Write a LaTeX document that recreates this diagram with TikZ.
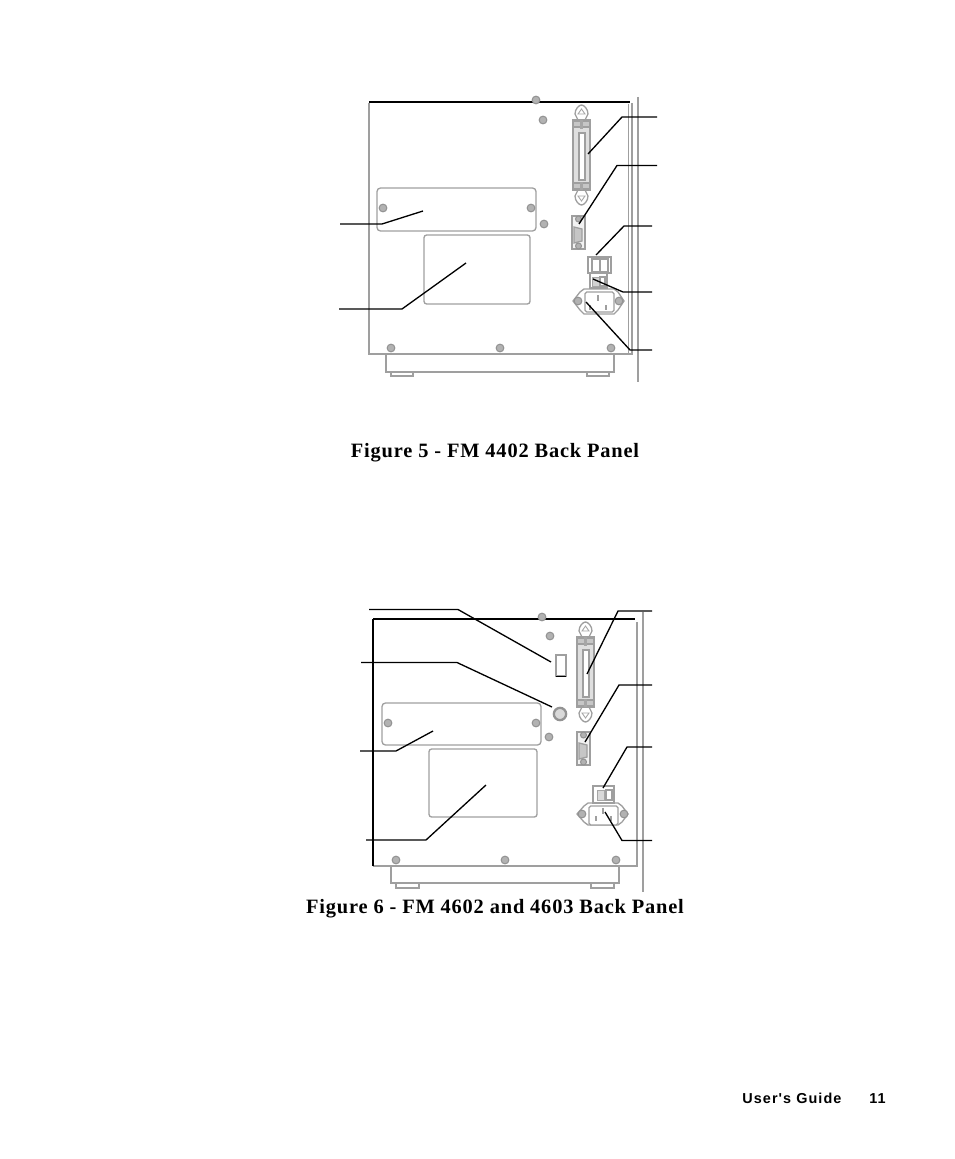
\documentclass[tikz,border=0pt]{standalone}
\usepackage{fontspec}
\setmainfont{Liberation Serif}
\setsansfont{Liberation Sans}
\newfontfamily\capfont[LetterSpace=4]{Liberation Serif}
\newfontfamily\footfont[LetterSpace=7.5]{Liberation Sans}
\tikzset{
  part/.style={draw=gray!75, line width=0.75pt},
  thin part/.style={draw=gray!70, line width=0.5pt},
  leader/.style={draw=black, line width=0.75pt},
  screw/.style={circle, draw=gray!85, fill=gray!60, line width=0.6pt, inner sep=0pt, minimum size=4.4pt},
  caption/.style={font=\capfont\bfseries\fontsize{11.6}{13}\selectfont, inner sep=0pt, anchor=base},
  footer/.style={font=\footfont\bfseries\fontsize{8.2}{10}\selectfont, inner sep=0pt, anchor=base west}
}
% centronics, db9 port: origin is the top left of the body
\newcommand{\centport}{
  \draw[part, fill=white] (5,0) -- (2,-6) .. controls (2,-11) and (6,-15) .. (8.5,-15) .. controls (11,-15) and (15,-11) .. (15,-6) -- (12,0) -- cycle;
  \draw[thin part] (5,-6) -- (8.5,-11) -- (12,-6) -- cycle;
  \draw[part, fill=white] (5,70) -- (2,76) .. controls (2,81) and (6,85) .. (8.5,85) .. controls (11,85) and (15,81) .. (15,76) -- (12,70) -- cycle;
  \draw[thin part] (5,76) -- (8.5,81) -- (12,76) -- cycle;
  \draw[part, fill=gray!25] (0,0) rectangle (17,70);
  \draw[part, fill=white] (6,13) rectangle (12,60);
  \draw[part, fill=gray!45] (0.5,1) rectangle (16.5,7);
  \draw[part, fill=gray!45] (0.5,63) rectangle (16.5,69);
  \draw[thin part, fill=gray!70] (7.5,0.5) rectangle (9.5,8);
  \draw[thin part, fill=gray!70] (7.5,62) rectangle (9.5,69.5);
}
\newcommand{\dbport}{
  \draw[part, fill=gray!10] (0,0) rectangle (13,33);
  \draw[part, fill=gray!45] (2,11) -- (10,13) -- (10,25) -- (2,27) -- cycle;
  \node[screw, minimum size=3.4pt] at (6.5,3) {};
  \node[screw, minimum size=3.4pt] at (6.5,30) {};
}
\begin{document}
\begin{tikzpicture}[x=0.02cm, y=-0.02cm]
\useasboundingbox (0,0) rectangle (954,1159);

% figure 5
\draw[part] (369,103) -- (369,354) -- (632,354) -- (632,103);
\draw[draw=black, line width=0.65pt] (369,102) -- (630,102);
\draw[part] (628.5,104) -- (628.5,354);
\draw[part] (386,354) -- (386,372) -- (614,372) -- (614,354);
\draw[part] (391,372) -- (391,376) -- (413,376) -- (413,372);
\draw[part] (587,372) -- (587,376) -- (609,376) -- (609,372);
\draw[part] (638,97) -- (638,382);
\draw[part, rounded corners=2pt] (377,188) rectangle (536,231);
\draw[part, rounded corners=1.5pt] (424,235) rectangle (530,304);
\foreach \sx/\sy in {536/100, 543/120, 544/224, 383/208, 531/208, 391/348, 500/348, 611/348}
  \node[screw] at (\sx,\sy) {};
\begin{scope}[shift={(573,120)}]
  \centport
\end{scope}
\begin{scope}[shift={(572,216)}]
  \dbport
\end{scope}
\draw[part] (588,257) rectangle (611,273);
\draw[part] (592,259) rectangle (600,272);
\draw[part] (600,259) rectangle (608,272);
\draw[part] (590,273) rectangle (607,288);
\draw[thin part, fill=gray!35] (592,277) rectangle (599,286);
\draw[part] (600,277) rectangle (605,286);
\draw[part] (573,301) -- (580,292) -- (584,289) -- (614,289) -- (618,292) -- (624,301) -- (618,310) -- (614,314) -- (584,314) -- (580,310) -- cycle;
\draw[part, fill=white, rounded corners=1pt] (585,292) rectangle (614,312);
\draw[part, line width=1pt] (598,295) -- (598,301);
\draw[part, line width=1pt] (590,305) -- (590,310);
\draw[part, line width=1pt] (606,305) -- (606,310);
\node[screw] at (578,301) {};
\node[screw] at (619,301) {};

\coordinate (serialfree) at (657,117);
\coordinate (serialbend) at (622,117);
\coordinate (serialport) at (588,154);
\draw[leader] (serialfree) -- (serialbend) -- (serialport);
\coordinate (dbfree) at (657,165.5);
\coordinate (dbbend) at (617,165.5);
\coordinate (dbport) at (579,224);
\draw[leader] (dbfree) -- (dbbend) -- (dbport);
\coordinate (switchfree) at (652,226);
\coordinate (switchbend) at (624,226);
\coordinate (switchpart) at (596,255);
\draw[leader] (switchfree) -- (switchbend) -- (switchpart);
\coordinate (fusefree) at (652,292);
\coordinate (fusebend) at (623,292);
\coordinate (fusepart) at (593,279);
\draw[leader] (fusefree) -- (fusebend) -- (fusepart);
\coordinate (powerfree) at (652,350);
\coordinate (powerbend) at (630,350);
\coordinate (powerpart) at (586,302);
\draw[leader] (powerfree) -- (powerbend) -- (powerpart);
\coordinate (platefree) at (340,224);
\coordinate (platebend) at (382,224);
\coordinate (platepart) at (423,211);
\draw[leader] (platefree) -- (platebend) -- (platepart);
\coordinate (labelfree) at (339,309);
\coordinate (labelbend) at (402,309);
\coordinate (labelpart) at (466,263);
\draw[leader] (labelfree) -- (labelbend) -- (labelpart);

\node[caption] (capfive) at (495,457) {Figure 5 - FM 4402 Back Panel};

% figure 6
\draw[part] (373,866) -- (637,866) -- (637,622);
\draw[draw=black, line width=0.8pt] (373,866) -- (373,619);
\draw[draw=black, line width=0.65pt] (373,619) -- (635,619);
\draw[part] (391,866) -- (391,883) -- (619,883) -- (619,866);
\draw[part] (396,883) -- (396,888) -- (419,888) -- (419,883);
\draw[part] (591,883) -- (591,888) -- (614,888) -- (614,883);
\draw[part] (643,612) -- (643,892);
\draw[part, rounded corners=2pt] (382,703) rectangle (541,745);
\draw[part, rounded corners=1.5pt] (429,749) rectangle (537,817);
\foreach \sx/\sy in {542/617, 550/636, 549/737, 388/723, 536/723, 396/860, 505/860, 616/860}
  \node[screw] at (\sx,\sy) {};
\draw[part] (556,655) rectangle (566,676);
\draw[leader, line width=0.5pt] (556,676) -- (566,676);
\node[screw, fill=gray!30, draw=gray!85, line width=1.3pt, minimum size=7pt] (knob) at (560,714) {};
\begin{scope}[shift={(577,637)}]
  \centport
\end{scope}
\begin{scope}[shift={(577,732)}]
  \dbport
\end{scope}
\draw[part] (593,786) rectangle (614,803);
\draw[thin part, fill=gray!30] (597,790) rectangle (604,800);
\draw[part] (606,790) rectangle (612,800);
\draw[part] (577,814) -- (584,806) -- (588,803) -- (618,803) -- (622,806) -- (628,814) -- (622,822) -- (618,825) -- (588,825) -- (584,822) -- cycle;
\draw[part, fill=white, rounded corners=1pt] (589,806) rectangle (618,825);
\draw[part, line width=1pt] (603,808) -- (603,814);
\draw[part, line width=1pt] (596,816) -- (596,821);
\draw[part, line width=1pt] (611,816) -- (611,821);
\node[screw] at (582,814) {};
\node[screw] at (624,814) {};

\coordinate (slotfree) at (369,609.5);
\coordinate (slotbend) at (458,609.5);
\coordinate (slotpart) at (551,662);
\draw[leader] (slotfree) -- (slotbend) -- (slotpart);
\coordinate (knobfree) at (361,662.5);
\coordinate (knobbend) at (457,662.5);
\coordinate (knobpart) at (552,707);
\draw[leader] (knobfree) -- (knobbend) -- (knobpart);
\coordinate (platesixfree) at (360,751);
\coordinate (platesixbend) at (396,751);
\coordinate (platesixpart) at (433,731);
\draw[leader] (platesixfree) -- (platesixbend) -- (platesixpart);
\coordinate (labelsixfree) at (366,840);
\coordinate (labelsixbend) at (426,840);
\coordinate (labelsixpart) at (486,785);
\draw[leader] (labelsixfree) -- (labelsixbend) -- (labelsixpart);
\coordinate (serialsixfree) at (652,611);
\coordinate (serialsixbend) at (618,611);
\coordinate (serialsixport) at (587,674);
\draw[leader] (serialsixfree) -- (serialsixbend) -- (serialsixport);
\coordinate (dbsixfree) at (652,685);
\coordinate (dbsixbend) at (619,685);
\coordinate (dbsixport) at (585,742);
\draw[leader] (dbsixfree) -- (dbsixbend) -- (dbsixport);
\coordinate (switchsixfree) at (652,747);
\coordinate (switchsixbend) at (627,747);
\coordinate (switchsixpart) at (603,788);
\draw[leader] (switchsixfree) -- (switchsixbend) -- (switchsixpart);
\coordinate (powersixfree) at (652,840.5);
\coordinate (powersixbend) at (622,840.5);
\coordinate (powersixpart) at (605,812);
\draw[leader] (powersixfree) -- (powersixbend) -- (powersixpart);

\node[caption] (capsix) at (495,913) {Figure 6 - FM 4602 and 4603 Back Panel};

% page foot
\node[footer] (guide) at (742,1103) {User\char39 s Guide};
\node[footer] (pageno) at (869,1103) {11};
\end{tikzpicture}
\end{document}
